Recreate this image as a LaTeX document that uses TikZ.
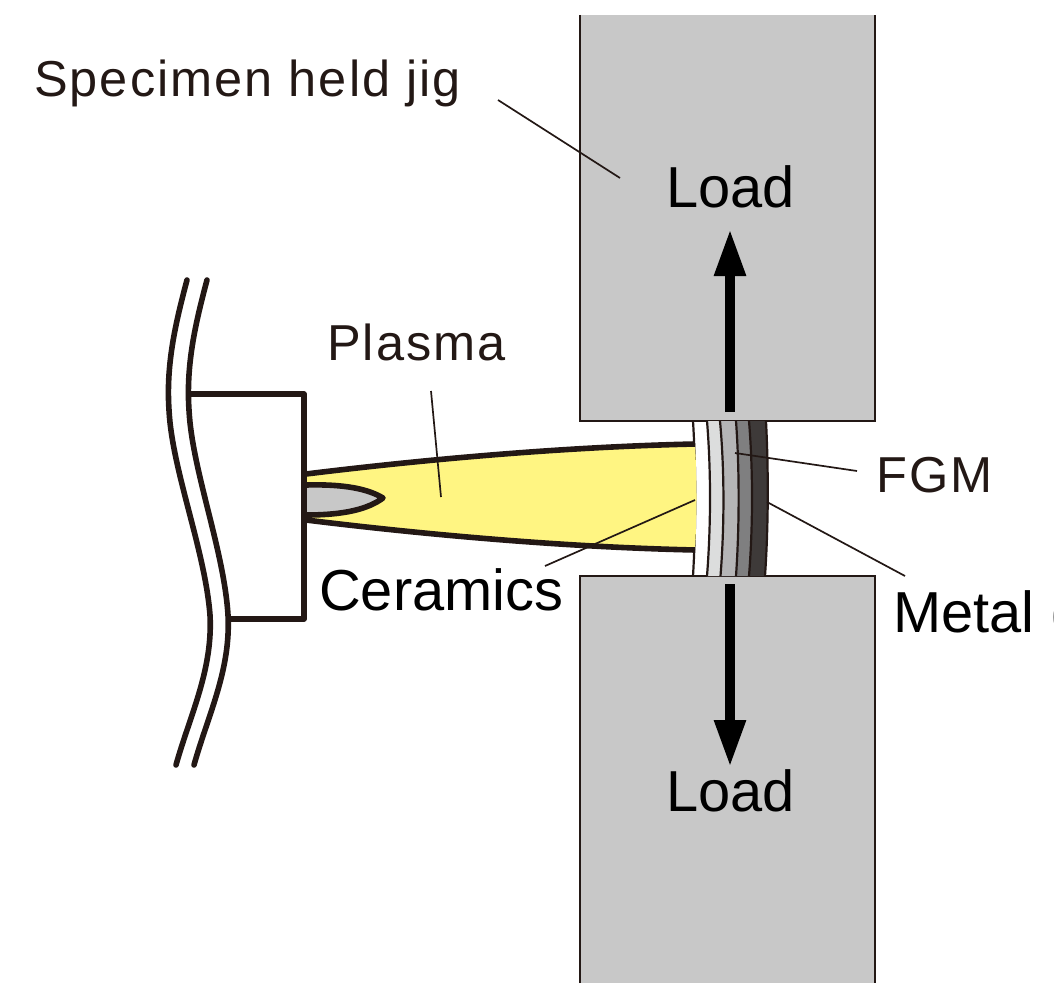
\documentclass[tikz,border=0pt]{standalone}
\usepackage{fontspec}
\setmainfont{Liberation Sans}
\newfontfamily\spaced[LetterSpace=4]{Liberation Sans}
\usetikzlibrary{arrows.meta}
\definecolor{ink}{HTML}{231815}
\definecolor{jig}{HTML}{C8C8C8}
\definecolor{flame}{HTML}{FFF582}
\definecolor{layerA}{HTML}{DCDDDD}
\definecolor{layerB}{HTML}{B5B5B6}
\definecolor{layerC}{HTML}{7F7F80}
\definecolor{layerD}{HTML}{3E3A39}
\tikzset{
  jigblock/.style={draw=ink,line width=1.7pt},
  heavy/.style={draw=ink,line width=5.6pt,line join=round},
  wavy/.style={draw=ink,line width=5.6pt,line cap=round},
  layerline/.style={draw=ink,line width=2.2pt},
  leader/.style={draw=ink,line width=1.7pt},
  loadarrow/.style={draw=black,line width=10pt,-{Triangle[length=47pt,width=29.5pt]}},
  plain/.style={inner sep=0pt,anchor=base west,text=black,font=\fontsize{57.8}{58}\selectfont},
  thin label/.style={inner sep=0pt,anchor=base west,text=ink,font=\fontsize{50.5}{51}\spaced},
}
\begin{document}
\begin{tikzpicture}[x=1pt,y=-1pt]
\useasboundingbox (0,0) rectangle (1054,984);

% Specimen jig blocks, open at the far ends
\fill[jig] (580,15) rectangle (875,421);
\draw[jigblock] (580,15) -- (580,421) -- (875,421) -- (875,15);
\fill[jig] (580,576) rectangle (875,983);
\draw[jigblock] (580,983) -- (580,576) -- (875,576) -- (875,983);

% Specimen layers between the blocks
\fill[layerA] (707,421) .. controls (711,470) and (711,525) .. (707,576) -- (720.5,576) .. controls (724.5,525) and (724.5,470) .. (720,421) -- cycle;
\fill[layerB] (720,421) .. controls (724.5,470) and (724.5,525) .. (720.5,576) -- (736,576) .. controls (739.5,525) and (739.5,470) .. (736,421) -- cycle;
\fill[layerC] (736,421) .. controls (739.5,470) and (739.5,525) .. (736,576) -- (749,576) .. controls (753,525) and (753,470) .. (749,421) -- cycle;
\fill[layerD] (749,421) .. controls (753,470) and (753,525) .. (749,576) -- (765,576) .. controls (768.5,525) and (768.5,470) .. (766,421) -- cycle;
\draw[layerline] (693,421) .. controls (696,470) and (696,525) .. (693,576);
\draw[layerline] (707,421) .. controls (711,470) and (711,525) .. (707,576);
\draw[layerline] (720,421) .. controls (724.5,470) and (724.5,525) .. (720.5,576);
\draw[layerline] (736,421) .. controls (739.5,470) and (739.5,525) .. (736,576);
\draw[layerline] (749,421) .. controls (753,470) and (753,525) .. (749,576);
\draw[layerline] (766,421) .. controls (768.5,470) and (768.5,525) .. (765,576);

% Plasma plume and inner core
\fill[flame] (306,474) .. controls (420,460) and (560,447) .. (695,445)
  .. controls (697,480) and (697,515) .. (695,549)
  .. controls (560,547) and (420,534) .. (306,520) -- cycle;
\draw[heavy] (306,474) .. controls (420,460) and (560,447) .. (695,444);
\draw[heavy] (306,520) .. controls (420,534) and (560,547) .. (695,550);
\draw[heavy,fill=jig] (306,485) .. controls (345,484) and (368,489) .. (383,498)
  .. controls (368,509) and (345,515) .. (306,515);

% Torch body with its break lines
\draw[heavy] (190,394) -- (304,394) -- (304,619) -- (228,619);
\draw[wavy] (187,280) .. controls (175,325) and (166,365) .. (169,410)
  .. controls (172,470) and (205,550) .. (210,615)
  .. controls (213,670) and (190,715) .. (176,765);
\draw[wavy] (207,280) .. controls (195,325) and (186,365) .. (189,410)
  .. controls (192,470) and (224,550) .. (228,615)
  .. controls (231,670) and (208,715) .. (194,765);

% Load arrows
\coordinate (upfoot) at (730,412);
\coordinate (uptip) at (730,229);
\coordinate (downfoot) at (730,584);
\coordinate (downtip) at (730,767);
\draw[loadarrow] (upfoot) -- (uptip);
\draw[loadarrow] (downfoot) -- (downtip);

% Labels
\node[thin label] (jiglabel) at (34,97) {Specimen held jig};
\node[thin label] (plasmalabel) at (327,360) {Plasma};
\node[thin label] (fgmlabel) at (876,492) {FGM};
\node[plain] (loadtop) at (666,208) {Load};
\node[plain] (loadbottom) at (666,811) {Load};
\node[plain] (ceramicslabel) at (319,610) {Ceramics};
\node[plain] (metallabel) at (893,632) {Metal (};

% Leader lines
\coordinate (jigfrom) at (498,100);
\coordinate (jigto) at (620,178);
\coordinate (plasmafrom) at (431,391);
\coordinate (plasmato) at (441,497);
\coordinate (fgmfrom) at (857,471);
\coordinate (fgmto) at (735,453);
\coordinate (metalfrom) at (905,576);
\coordinate (metalto) at (767,502);
\coordinate (ceramicsfrom) at (545,566);
\coordinate (ceramicsto) at (695,500);
\draw[leader] (jigfrom) -- (jigto);
\draw[leader] (plasmafrom) -- (plasmato);
\draw[leader] (fgmfrom) -- (fgmto);
\draw[leader] (metalfrom) -- (metalto);
\draw[leader] (ceramicsfrom) -- (ceramicsto);
\end{tikzpicture}
\end{document}
